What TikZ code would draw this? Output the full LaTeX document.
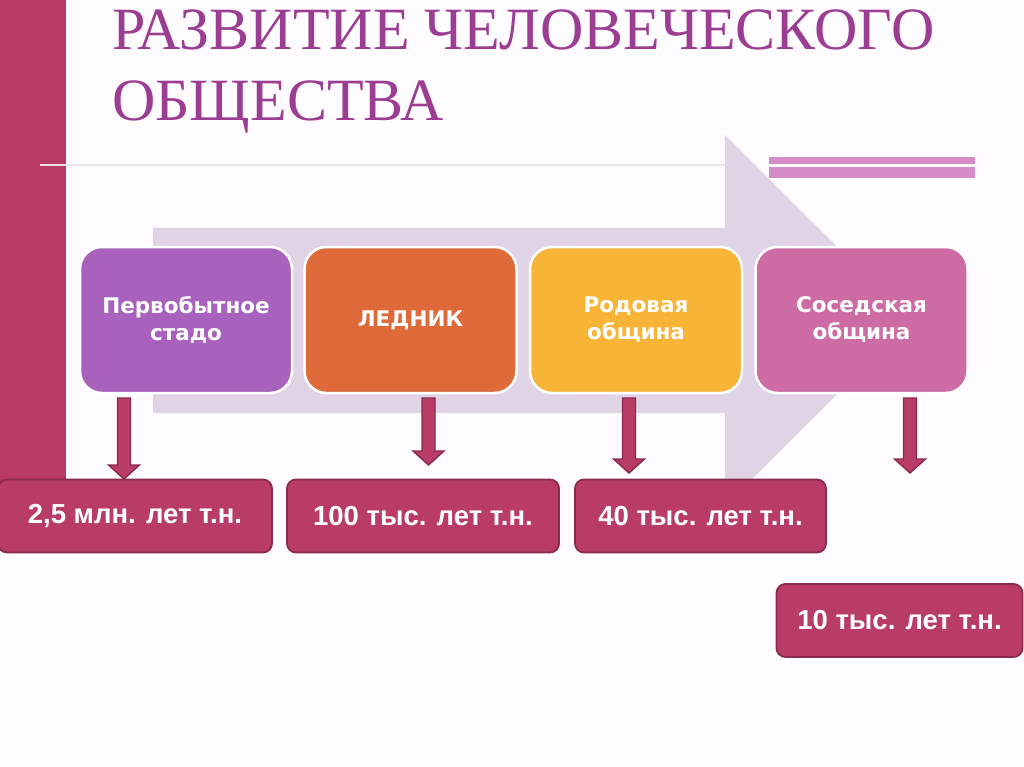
\documentclass[tikz,border=0pt]{standalone}
\usepackage{fontspec}
\setmainfont{Liberation Serif}
\newfontfamily\datefont{Liberation Sans}
\newfontfamily\stagefont{DejaVu Sans}
\usetikzlibrary{calc}
\definecolor{bgc}{HTML}{FEFCFE}
\definecolor{barc}{HTML}{B83A64}
\definecolor{barline}{HTML}{8A2A4E}
\definecolor{titlec}{HTML}{9B3D92}
\definecolor{bigarrow}{HTML}{E0D3E6}
\definecolor{rulec}{HTML}{ECE2EA}
\definecolor{deco}{HTML}{D68CC6}
\definecolor{c1}{HTML}{A862BE}
\definecolor{c2}{HTML}{DE6A3A}
\definecolor{c3}{HTML}{F7B436}
\definecolor{c4}{HTML}{CC6BA4}
\definecolor{datec}{HTML}{B93C66}
\tikzset{
  stagebox/.style={draw=white, line width=2.5pt, rounded corners=22pt, text=white,
    font=\stagefont\bfseries\fontsize{21.5}{27}\selectfont, align=center,
    minimum width=212pt, minimum height=146pt, inner sep=0pt},
  datebox/.style={draw=barline, line width=1.8pt, fill=datec, rounded corners=9pt, text=white,
    font=\datefont\bfseries\fontsize{27.5}{30}\selectfont, inner sep=0pt},
  barr/.style={fill=datec, draw=barline, line width=1.4pt, line join=miter},
  titletext/.style={text=titlec, font=\fontsize{60}{72}\selectfont, inner sep=0pt, anchor=base west}
}
\newcommand{\blockarrow}[3]{%
  \draw[barr] (#1-6.5,#2) -- (#1+6.5,#2) -- (#1+6.5,#3-14) -- (#1+15.5,#3-14)
    -- (#1,#3) -- (#1-15.5,#3-14) -- (#1-6.5,#3-14) -- cycle;}
\begin{document}
\begin{tikzpicture}[x=1pt,y=-1pt]
\useasboundingbox (0,0) rectangle (1024,767);
\fill[bgc] (0,0) rectangle (1024,767);
% left bar
\fill[barc] (0,0) rectangle (66,482);
% rule
\draw[rulec, line width=2pt] (40,165) -- (740,165);
% big arrow
\fill[bigarrow] (153,228) -- (725,228) -- (725,135) -- (911,320.5) -- (725,506) -- (725,413) -- (153,413) -- cycle;
% decoration lines
\fill[deco] (769,157) rectangle (975,164);
\fill[deco] (769,167) rectangle (975,178);
% title
\node[titletext] (t1) at (112,50) {РАЗВИТИЕ ЧЕЛОВЕЧЕСКОГО};
\node[titletext] (t2) at (112,121) {ОБЩЕСТВА};
% stage boxes
\node[stagebox, fill=c1] (s1) at (186,320) {Первобытное\\стадо};
\node[stagebox, fill=c2] (s2) at (410.5,320) {ЛЕДНИК};
\node[stagebox, fill=c3] (s3) at (636,320) {Родовая\\община};
\node[stagebox, fill=c4] (s4) at (861.5,320) {Соседская\\община};
% down arrows
\blockarrow{124}{398}{479}
\blockarrow{428.5}{398}{465}
\blockarrow{629}{398}{473}
\blockarrow{910}{398}{473}
% date boxes
\node[datebox, minimum width=274pt, minimum height=73pt] (d1) at (135,516) {2,5 млн. лет т.н.};
\node[datebox, minimum width=272pt, minimum height=73pt] (d2) at (423,516) {100 тыс. лет т.н.};
\node[datebox, minimum width=251pt, minimum height=73pt] (d3) at (700.5,516) {40 тыс. лет т.н.};
\node[datebox, minimum width=246pt, minimum height=73pt] (d4) at (899.5,620.5) {10 тыс. лет т.н.};
\end{tikzpicture}
\end{document}
